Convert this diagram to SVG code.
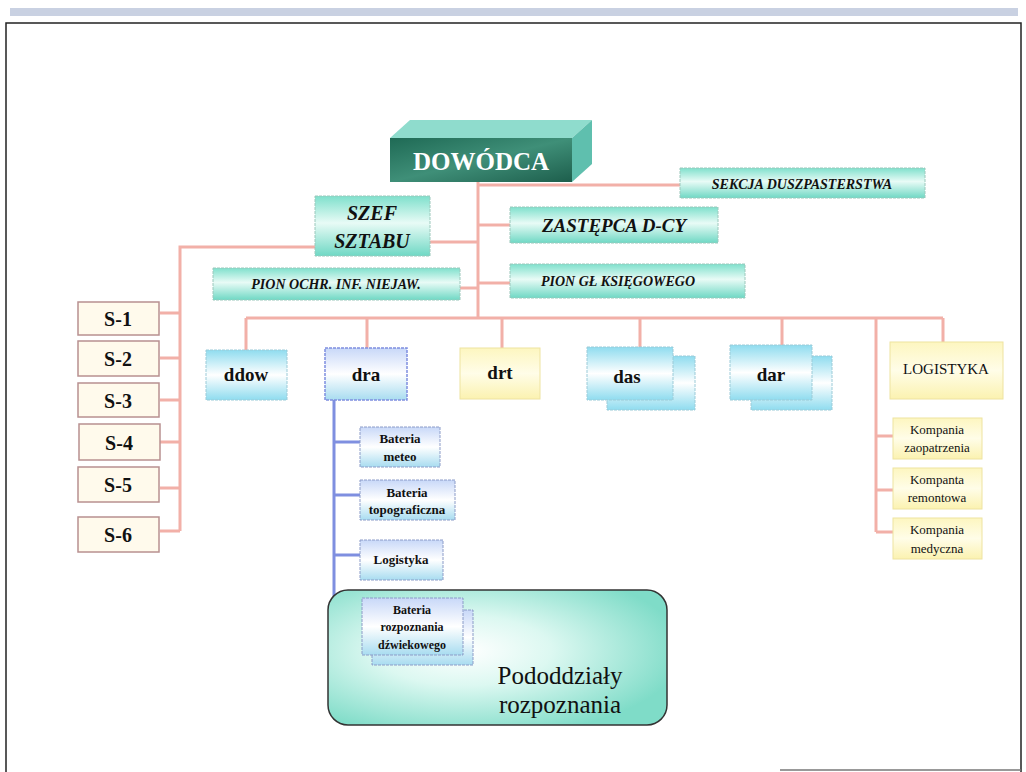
<svg xmlns="http://www.w3.org/2000/svg" width="1026" height="772" viewBox="0 0 1026 772">
  <defs>
    <linearGradient id="tealV" x1="0" y1="0" x2="0" y2="1">
      <stop offset="0" stop-color="#7fe0cc"/>
      <stop offset="0.45" stop-color="#e8fbf6"/>
      <stop offset="1" stop-color="#6fd8c4"/>
    </linearGradient>
    <linearGradient id="cyanV" x1="0" y1="0" x2="0" y2="1">
      <stop offset="0" stop-color="#8fdcef"/>
      <stop offset="0.5" stop-color="#ffffff"/>
      <stop offset="1" stop-color="#8fdcef"/>
    </linearGradient>
    <linearGradient id="blueV" x1="0" y1="0" x2="0" y2="1">
      <stop offset="0" stop-color="#c8d8f8"/>
      <stop offset="0.5" stop-color="#ffffff"/>
      <stop offset="1" stop-color="#a8dcf0"/>
    </linearGradient>
    <linearGradient id="yellowV" x1="0" y1="0" x2="0" y2="1">
      <stop offset="0" stop-color="#fdf6c0"/>
      <stop offset="0.5" stop-color="#fffde8"/>
      <stop offset="1" stop-color="#fbf2b0"/>
    </linearGradient>
    <linearGradient id="darkTeal" x1="0" y1="0" x2="1" y2="1">
      <stop offset="0" stop-color="#1f6a55"/>
      <stop offset="0.5" stop-color="#3f8f78"/>
      <stop offset="1" stop-color="#1d5e4c"/>
    </linearGradient>
    <radialGradient id="panel" cx="0.4" cy="0.45" r="0.65">
      <stop offset="0" stop-color="#ffffff"/>
      <stop offset="0.4" stop-color="#dcf8f1"/>
      <stop offset="1" stop-color="#7fdcc8"/>
    </radialGradient>
    <style>
      .conn { fill: none; stroke: #f2b0a8; stroke-width: 3; }
      .connB { fill: none; stroke: #7f8fe0; stroke-width: 3; }
      .teal { fill: url(#tealV); stroke: #9cc8bc; stroke-width: 1; stroke-dasharray: 3 1; }
      .cyan { fill: url(#cyanV); stroke: #9ccbd8; stroke-width: 1; stroke-dasharray: 3 1; }
      .yel { fill: url(#yellowV); stroke: #eee3a0; stroke-width: 1; }
      .sbox { fill: #fffaec; stroke: #b89090; stroke-width: 1.5; }
      .bat { fill: url(#blueV); stroke: #8c9cc8; stroke-width: 1; stroke-dasharray: 3 1; }
      text { font-family: "Liberation Serif", "Times New Roman", serif; fill: #111; }
      .it { font-style: italic; font-weight: bold; }
      .bd { font-weight: bold; }
    </style>
  </defs>

  <rect x="0" y="0" width="1026" height="772" fill="#ffffff"/>
  <!-- page frame -->
  <rect x="10" y="8" width="1008" height="8" fill="#c9d1e2"/>
  <path d="M6 772 V23 H1021 V772" fill="none" stroke="#222" stroke-width="1.5"/>
  <path d="M780 770 H1021" fill="none" stroke="#777" stroke-width="1.5"/>

  <!-- connectors -->
  <g id="connectors">
    <path class="conn" d="M478 182 V318"/>
    <path class="conn" d="M478 185 H680"/>
    <path class="conn" d="M478 225 H510"/>
    <path class="conn" d="M430 242 H478"/>
    <path class="conn" d="M180 531 V247 H315"/>
    <path class="conn" d="M460 288 H478"/>
    <path class="conn" d="M478 283 H510"/>
    <path class="conn" d="M160 313 H180 M160 358 H180 M160 400 H180 M160 442 H180 M160 488 H180 M160 531 H180"/>
    <path class="conn" d="M246 318 H943"/>
    <path class="conn" d="M246 318 V350 M367 318 V348 M502 318 V348 M640 318 V347 M782 318 V345 M943 318 V342"/>
    <path class="conn" d="M876 318 V532"/>
    <path class="conn" d="M876 436 H893 M876 490 H893 M876 532 H893"/>
    <path class="connB" d="M334 400 V622 H362"/>
    <path class="connB" d="M334 442 H360 M334 495 H360 M334 555 H360"/>
  </g>

  <!-- commander -->
  <g id="dowodca">
    <polygon points="390,138 410,120 592,120 572,138" fill="#8fdccd"/>
    <polygon points="572,138 592,120 592,164 572,182" fill="#5fbfae"/>
    <rect x="390" y="138" width="182" height="44" fill="url(#darkTeal)"/>
    <text x="481" y="170" text-anchor="middle" font-family="Liberation Serif, serif" font-weight="bold" font-size="25" style="fill:#ffffff">DOWÓDCA</text>
  </g>

  <g id="sekcja">
    <rect class="teal" x="680" y="168" width="245" height="30"/>
    <text class="it" x="802" y="189" text-anchor="middle" font-size="14">SEKCJA DUSZPASTERSTWA</text>
  </g>

  <g id="szef">
    <rect class="teal" x="315" y="196" width="115" height="60"/>
    <text class="it" x="372" y="220" text-anchor="middle" font-size="20">SZEF</text>
    <text class="it" x="372" y="248" text-anchor="middle" font-size="20">SZTABU</text>
  </g>

  <g id="zastepca">
    <rect class="teal" x="510" y="207" width="208" height="36"/>
    <text class="it" x="614" y="232" text-anchor="middle" font-size="19">ZASTĘPCA D-CY</text>
  </g>

  <g id="pion-ochr">
    <rect class="teal" x="213" y="268" width="247" height="32"/>
    <text class="it" x="336" y="289" text-anchor="middle" font-size="14">PION  OCHR. INF. NIEJAW.</text>
  </g>

  <g id="pion-ksieg">
    <rect class="teal" x="510" y="264" width="235" height="34"/>
    <text class="it" x="618" y="286" text-anchor="middle" font-size="14">PION GŁ KSIĘGOWEGO</text>
  </g>

  <!-- staff sections -->
  <g id="s1"><rect class="sbox" x="78" y="302" width="81" height="33"/><text class="bd" x="118" y="326" text-anchor="middle" font-size="20">S-1</text></g>
  <g id="s2"><rect class="sbox" x="78" y="341" width="81" height="35"/><text class="bd" x="118" y="366" text-anchor="middle" font-size="20">S-2</text></g>
  <g id="s3"><rect class="sbox" x="78" y="383" width="81" height="34"/><text class="bd" x="118" y="408" text-anchor="middle" font-size="20">S-3</text></g>
  <g id="s4"><rect class="sbox" x="79" y="424" width="81" height="36"/><text class="bd" x="119" y="450" text-anchor="middle" font-size="20">S-4</text></g>
  <g id="s5"><rect class="sbox" x="78" y="467" width="81" height="35"/><text class="bd" x="118" y="492" text-anchor="middle" font-size="20">S-5</text></g>
  <g id="s6"><rect class="sbox" x="78" y="517" width="81" height="35"/><text class="bd" x="118" y="542" text-anchor="middle" font-size="20">S-6</text></g>

  <!-- divisions -->
  <g id="ddow">
    <rect class="cyan" x="206" y="350" width="81" height="50"/>
    <text class="bd" x="246" y="381" text-anchor="middle" font-size="19">ddow</text>
  </g>
  <g id="dra">
    <rect x="325" y="348" width="82" height="52" fill="url(#blueV)" stroke="#7f8fe0" stroke-width="1.5" stroke-dasharray="3 1"/>
    <text class="bd" x="366" y="381" text-anchor="middle" font-size="19">dra</text>
  </g>
  <g id="drt">
    <rect class="yel" x="460" y="348" width="80" height="51"/>
    <text class="bd" x="500" y="379" text-anchor="middle" font-size="19">drt</text>
  </g>
  <g id="das">
    <rect class="cyan" x="607" y="356" width="88" height="54"/>
    <rect class="cyan" x="587" y="347" width="86" height="53"/>
    <text class="bd" x="627" y="383" text-anchor="middle" font-size="19">das</text>
  </g>
  <g id="dar">
    <rect class="cyan" x="751" y="356" width="81" height="54"/>
    <rect class="cyan" x="730" y="345" width="82" height="55"/>
    <text class="bd" x="771" y="381" text-anchor="middle" font-size="19">dar</text>
  </g>
  <g id="logistyka">
    <rect class="yel" x="890" y="342" width="113" height="57"/>
    <text x="946" y="374" text-anchor="middle" font-size="15">LOGISTYKA</text>
  </g>

  <!-- logistics companies -->
  <g id="komp-zaop">
    <rect class="yel" x="893" y="418" width="89" height="41"/>
    <text x="937" y="434" text-anchor="middle" font-size="13">Kompania</text>
    <text x="937" y="452" text-anchor="middle" font-size="13">zaopatrzenia</text>
  </g>
  <g id="komp-rem">
    <rect class="yel" x="893" y="468" width="89" height="41"/>
    <text x="937" y="484" text-anchor="middle" font-size="13">Kompanta</text>
    <text x="937" y="502" text-anchor="middle" font-size="13">remontowa</text>
  </g>
  <g id="komp-med">
    <rect class="yel" x="893" y="518" width="89" height="41"/>
    <text x="937" y="534" text-anchor="middle" font-size="13">Kompania</text>
    <text x="937" y="553" text-anchor="middle" font-size="13">medyczna</text>
  </g>

  <!-- reconnaissance panel -->
  <g id="pododdzialy">
    <rect x="328" y="590" width="339" height="135" rx="20" fill="url(#panel)" stroke="#333" stroke-width="1.5"/>
    <text x="560" y="684" text-anchor="middle" font-size="25">Pododdziały</text>
    <text x="560" y="713" text-anchor="middle" font-size="25">rozpoznania</text>
  </g>

  <!-- dra batteries -->
  <g id="bat-meteo">
    <rect class="bat" x="360" y="427" width="80" height="40"/>
    <text class="bd" x="400" y="443" text-anchor="middle" font-size="13">Bateria</text>
    <text class="bd" x="400" y="461" text-anchor="middle" font-size="13">meteo</text>
  </g>
  <g id="bat-topo">
    <rect class="bat" x="360" y="480" width="95" height="40"/>
    <text class="bd" x="407" y="497" text-anchor="middle" font-size="13">Bateria</text>
    <text class="bd" x="407" y="514" text-anchor="middle" font-size="13">topograficzna</text>
  </g>
  <g id="bat-log">
    <rect class="bat" x="360" y="540" width="83" height="40"/>
    <text class="bd" x="401" y="564" text-anchor="middle" font-size="13">Logistyka</text>
  </g>
  <g id="bat-dzw">
    <rect class="bat" x="372" y="610" width="101" height="55"/>
    <rect class="bat" x="362" y="598" width="101" height="57"/>
    <text class="bd" x="412" y="614" text-anchor="middle" font-size="12">Bateria</text>
    <text class="bd" x="412" y="631" text-anchor="middle" font-size="12">rozpoznania</text>
    <text class="bd" x="412" y="649" text-anchor="middle" font-size="12">dźwiekowego</text>
  </g>
</svg>
